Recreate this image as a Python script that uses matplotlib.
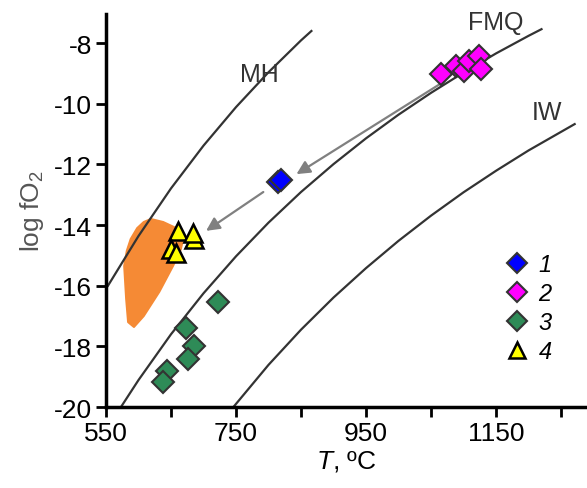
"""log fO2 vs T diagram with MH, FMQ and IW buffer curves."""

import matplotlib
matplotlib.use("Agg")
import matplotlib.pyplot as plt
from matplotlib.patches import Polygon

plt.rcParams["font.family"] = ["Liberation Sans", "DejaVu Sans"]
plt.rcParams["mathtext.fontset"] = "custom"
plt.rcParams["mathtext.rm"] = "Liberation Sans"
plt.rcParams["mathtext.it"] = "Liberation Sans:italic"
plt.rcParams["axes.unicode_minus"] = False

# Buffer curves
mh_t = [553, 600, 650, 700, 750, 800, 850, 866]
mh_f = [-16.0, -14.36, -12.79, -11.38, -10.11, -8.96, -7.91, -7.6]
fmq_t = [573, 600, 650, 700, 750, 800, 850, 900, 950, 1000, 1050, 1100, 1150, 1200, 1220]
fmq_f = [-20.0, -19.11, -17.60, -16.25, -15.03, -13.92, -12.91, -11.99, -11.14,
         -10.36, -9.64, -8.97, -8.34, -7.76, -7.54]
iw_t = [746, 800, 850, 900, 950, 1000, 1050, 1100, 1150, 1200, 1271]
iw_f = [-20.0, -18.61, -17.45, -16.39, -15.42, -14.52, -13.69, -12.92, -12.21, -11.54, -10.67]

# Samples
t1 = [815, 819]
f1 = [-12.58, -12.51]
t2 = [1066, 1089, 1100, 1109, 1124, 1127]
f2 = [-9.02, -8.76, -8.92, -8.59, -8.43, -8.86]
t3 = [722, 673, 685, 676, 644, 638]
f3 = [-16.53, -17.39, -17.98, -18.41, -18.81, -19.17]
t4 = [661, 686, 684, 650, 658]
f4 = [-14.19, -14.46, -14.26, -14.79, -14.92]

# Orange field outline
field_t = [619, 638, 661, 670, 665, 653, 632, 608, 593, 584, 581, 578, 582, 588, 598, 608]
field_f = [-13.80, -13.90, -14.13, -14.35, -14.80, -15.35, -16.20, -17.00, -17.36,
           -17.20, -16.43, -15.35, -14.85, -14.46, -14.10, -13.90]

fig = plt.figure(figsize=(5.87, 4.89), dpi=100)
ax = fig.add_axes([0.1806, 0.1656, 0.8194, 0.8037])

ax.add_patch(Polygon(list(zip(field_t, field_f)), closed=True,
                     facecolor="#f58a35", edgecolor="#f58a35", lw=1.5,
                     joinstyle="round", zorder=1))

for tt, ff in [(mh_t, mh_f), (fmq_t, fmq_f), (iw_t, iw_f)]:
    ax.plot(tt, ff, color="#333333", lw=1.6, zorder=2)

ax.text(786, -9.02, "MH", fontsize=18, color="#333333", ha="center", va="center")
ax.text(1150, -7.31, "FMQ", fontsize=18, color="#333333", ha="center", va="center")
ax.text(1228, -10.27, "IW", fontsize=18, color="#333333", ha="center", va="center")

# Arrows
arrow = dict(arrowstyle="-|>", color="#808080", lw=1.6, mutation_scale=20,
             shrinkA=0, shrinkB=0)
ax.annotate("", xy=(843, -12.32), xytext=(1066, -9.32), arrowprops=arrow, zorder=3)
ax.annotate("", xy=(704, -14.19), xytext=(792, -12.91), arrowprops=arrow, zorder=3)

ax.plot(t1, f1, "D", ms=11, mfc="#0000ff", mec="#333333", mew=1.5, ls="none",
        label="1", zorder=4)
ax.plot(t2, f2, "D", ms=11, mfc="#ff00ff", mec="#333333", mew=1.5, ls="none",
        label="2", zorder=4)
ax.plot(t3, f3, "D", ms=11, mfc="#2e8b57", mec="#333333", mew=1.5, ls="none",
        label="3", zorder=4)
ax.plot(t4, f4, "^", ms=13, mfc="#ffff00", mec="black", mew=1.8, ls="none",
        label="4", zorder=4)

ax.set_xlim(550, 1290)
ax.set_ylim(-20, -7.04)
ax.set_xticks(range(550, 1300, 100))
ax.set_xticklabels(["550", "", "750", "", "950", "", "1150", ""])
ax.set_yticks(range(-20, -7, 2))
ax.tick_params(direction="out", length=7, width=2, labelsize=19, pad=3)
for s in ["top", "right"]:
    ax.spines[s].set_visible(False)
for s in ["left", "bottom"]:
    ax.spines[s].set_linewidth(2.5)

ax.set_xlabel(r"$T$, ºC", fontsize=19, labelpad=2)
ax.set_ylabel(r"log fO$_2$", fontsize=19, color="#555555", labelpad=6)

ax.legend(loc="upper left", bbox_to_anchor=(0.786, 0.445), frameon=False,
          prop={"style": "italic", "size": 17}, handlelength=1.0,
          handletextpad=0.4, labelspacing=0.25, markerscale=0.9)

fig.savefig("out.png", dpi=100)
